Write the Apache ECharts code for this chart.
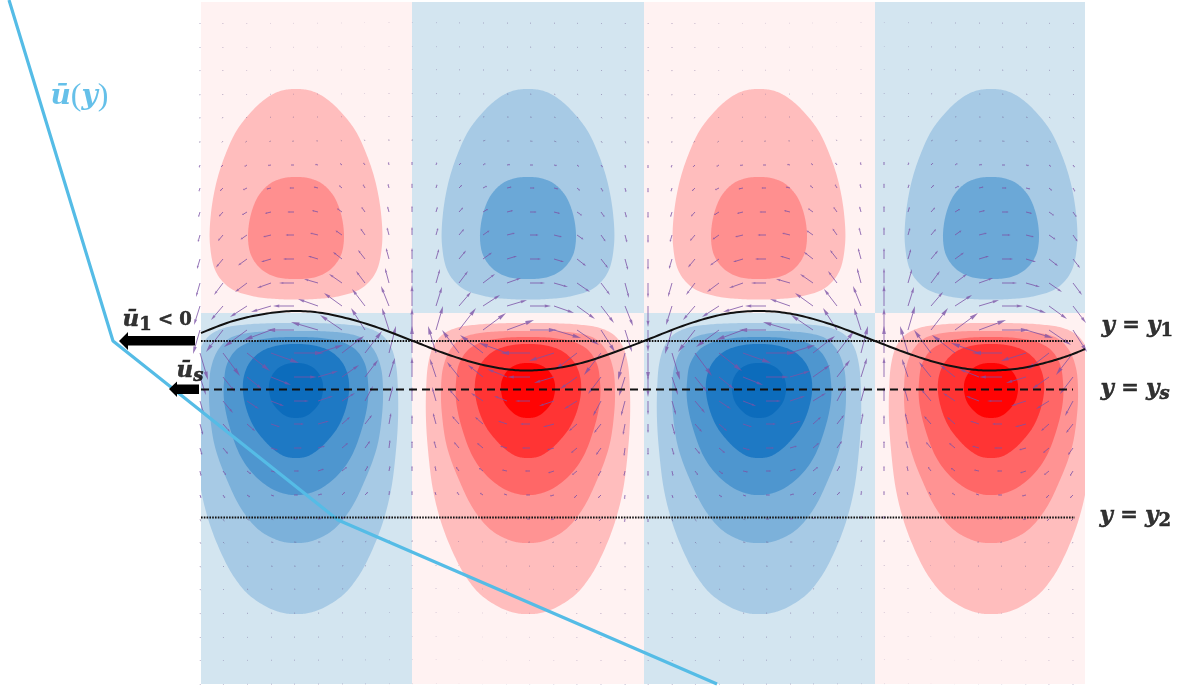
<!DOCTYPE html>
<html><head><meta charset="utf-8">
<style>html,body{margin:0;padding:0;background:#fff}#c{width:1184px;height:687px}</style>
<script src="https://cdn.jsdelivr.net/npm/echarts@6/dist/echarts.min.js"></script>
</head><body><div id="c"></div>
<script>
// Field cells: [x start, x end, y start, y end, sign]
const cells = [
 [201,412,2,313,1],[412,644,2,313,-1],[644,875,2,313,1],[875,1085,2,313,-1],
 [201,412,313,684,-1],[412,644,313,684,1],[644,875,313,684,-1],[875,1085,313,684,1]
];
const cellCentres = [296,528,759,991];
// Contour half-profiles [offset from cell centre, y]
const upperOuter = [[0,89],[14,90.5],[28,97],[44,111],[59,130],[70,153],[79,180],[85,213],[86,245],[80,272],[66,288],[44,296],[20,299],[0,299.5]];
const upperInner = [[0,177],[12,178],[25,183],[37,195],[45,214],[48,237],[45,255],[35,269],[20,277],[0,279]];
const lower1 = [[0,323],[25,323.2],[50,324.5],[72,328],[86,335],[95,347],[100,365],[102,393],[102,420],[100,450],[95,490],[86,525],[73,557],[62,577],[47,595],[25,609],[10,613.5],[0,614]];
const lower2 = [[0,331],[25,331.2],[48,333],[66,338],[78,350],[85,368],[87,390],[86,415],[81,447],[69,480],[54,510],[37,530],[19,540],[8,542.7],[0,543]];
const lower3 = [[0,337],[25,338],[46,342],[60,350],[69,364],[72,382],[72,400],[67,425],[55,457],[40,477],[22,490],[8,494.5],[0,495]];
const lower4 = [[0,344],[18,345.5],[34,351],[46,362],[52,376],[53,392],[49,411],[42,427],[33,439],[23,449],[11,456.5],[0,458]];
const lower5 = [[0,363],[11,364.5],[20,370],[26,380],[27,390],[24,402],[17,411],[9,416.5],[0,418]];
const upperLevels = [upperOuter, upperInner];
const lowerLevels = [lower1, lower2, lower3, lower4, lower5];
const redShades  = {band:'#FFF2F2', upper:['#FFBDBD','#FF8F8F'], lower:['#FFBDBD','#FF9393','#FF6767','#FF3434','#FF0404']};
const blueShades = {band:'#D3E5F0', upper:['#A7CAE5','#6BA8D7'], lower:['#A7CAE5','#7CB1DA','#4E96CF','#1E79C4','#0C6CBC']};

// Quiver rows: y, then east and south components per grid column, read for one half wave
const quiverY = [23,47,70,94,117,141,165,188,212,235,259,283,306,330,353,377,401,424,448,471,495,519,542,566,589,613,637,660,684];
const quiverU = [
 [-.3,-.5,-.6,-.7,-.7,-.7,-.6,-.5,-.3,0],[-.3,-.5,-.6,-.7,-.8,-.7,-.6,-.5,-.3,0],[-.4,-.6,-.7,-.8,-.9,-.8,-.7,-.6,-.3,0],
 [-.5,-.8,-.9,-1,-1,-1,-.9,-.7,-.3,0],[-.5,-1,-1,-1.3,-1.4,-1.3,-1,-.8,-.4,0],[-.6,-1.5,-2,-2,-2.2,-2,-1.5,-1,-.5,0],
 [-.8,-2,-2.5,-3,-3,-2.8,-2,-1.5,-.6,0],[-1,-3,-4,-4.5,-4.5,-4.2,-3,-2,-1,0],[-1.5,-4,-5,-6,-6.5,-6,-5,-3.5,-1.5,0],
 [-2,-5,-6.5,-8,-8.5,-8,-6.5,-4.5,-2,0],[-3,-7,-9,-10,-11,-10,-9,-7,-3,0],[-4,-9,-12,-14,-15,-14,-13,-9,-4,0],
 [-6,-12,-17,-20,-21,-20,-18,-13,-8,0],[-7,-17,-23,-27,-27,-27,-22,-14,-7,0],[8,17,23,28,30,25,22,17,7,0],
 [6,12,15,20,23,20,17,13,6,0],[4,10,12,13,15,15,13,8,4,0],[3,7,8,9,10,11,8,7,2,0],
 [2,5,6,7,8,7,6,5,1,0],[1,3,4,5,5,6,5,3,1,0],[1,2,3,3,4,4,3,3,.5,0],
 [.5,1,2,2,3,3,2,2,.5,0],[.5,1,1,2,2,2,1,1,.3,0],[.3,.7,1,1.3,1.3,1.3,1,.7,.2,0],
 [.3,.6,.8,1,1,1,.8,.6,.2,0],[.2,.5,.7,.8,.8,.8,.7,.5,.2,0],[.2,.4,.5,.6,.7,.6,.5,.4,.2,0],
 [.2,.3,.4,.5,.6,.5,.4,.3,.2,0],[.1,.3,.4,.5,.5,.5,.4,.3,.1,0]
];
const quiverV = [
 [.7,.5,.3,.1,0,-.1,-.3,-.5,-.7,-.7],[.7,.5,.3,.1,0,-.1,-.3,-.5,-.7,-.7],[.8,.6,.3,.1,0,-.1,-.3,-.6,-.8,-.8],
 [1,.7,.4,.1,0,-.2,-.4,-.7,-1,-1],[1.2,1,.6,.2,0,-.3,-.7,-1,-1.2,-1.3],[1.6,1.2,1,.3,0,-.5,-1,-1.6,-2,-2],
 [2.5,2,1.5,.5,0,-.6,-1.5,-2.2,-2.8,-3],[3.5,3,2,1,0,-1,-2.5,-3.5,-4,-4.5],[5,4.5,3,1.5,0,-1.5,-3.5,-5,-5.5,-6],
 [7,6,4.5,2,0,-2,-4.5,-6.5,-7.5,-8],[10,8.5,6.5,3,0,-3,-7,-9,-11,-11],[14,12,9,5,0,-4,-9,-12,-15,-15],
 [19,14,11,6,0,-7,-13,-17,-20,-21],[24,22,17,10,0,-8,-15,-22,-22,-22],[27,23,18,10,0,-8,-17,-22,-27,-27],
 [18,15,12,8,0,-6,-12,-17,-19,-20],[14,12,8,5,0,-5,-8,-15,-15,-14],[11,8,7,3,0,-3,-7,-9,-11,-9],
 [7,6,5,2,0,-2,-5,-7,-8,-7],[5,4,3,1,0,-2,-4,-5,-5,-5],[3,3,2,1,0,-1,-3,-3,-4,-4],
 [2,2,1,.5,0,-.5,-2,-2,-3,-3],[1.5,1,.5,.2,0,-.3,-1,-1,-2,-2],[1,.7,.3,.1,0,-.2,-.7,-.7,-1,-1],
 [.9,.6,.3,.1,0,-.2,-.6,-.7,-.9,-.9],[.8,.6,.3,.1,0,-.1,-.5,-.6,-.8,-.8],[.7,.5,.3,.1,0,-.1,-.4,-.5,-.7,-.7],
 [.6,.4,.2,.1,0,-.1,-.3,-.4,-.6,-.6],[.5,.4,.2,.1,0,-.1,-.3,-.4,-.5,-.5]
];
const quiverX = [200,223,247,271,294,318,342,365,389,412,436,459,483,507,530,554,577,601,625,648,672,695,719,743,766,790,813,837,861,884,908,931,955,979,1002,1026,1049,1073];

// Reference lines and profile
const waveLine = [[201,333],[233,321],[267,313.5],[296,311],[325,313.5],[367,324],[413,341],[445,353.5],[479,364],[509,369.5],[528,370.5],[555,368.4],[585,362],[619,350.5],[644,341],[690,323.4],[725,314],[759,311],[790,313.6],[830,324],[875,341],[908,353.5],[942,364],[972,369.5],[991,370.5],[1020,368.3],[1050,361.5],[1073,354],[1085,349]];
const line1 = [[201,341],[1073,341]];
const lineS = [[201,389.5],[1073,389.5]];
const line2 = [[201,517.5],[1075,517.5]];
const meanFlow = [[9,0],[113,341],[338,520],[717,684]];
// Flow arrows: polygons of tip, barbs and shaft
const flowArrow1 = [[119,341],[128,332],[128,336],[195,336],[195,345.5],[128,345.5],[128,350]];
const flowArrowS = [[169,389],[177,381.5],[177,384.5],[199,384.5],[199,394],[177,394],[177,397]];

const labelPoints = [[50,97],[122,320],[176,371],[1101,326],[1100,389],[1099,516]];
const labelTexts = [
 '{b|ū}{p|(}{b|y}{p|)}',
 '{k|ū}{ks|1}{kc| < 0}',
 '{k|ū}{ksi|s}',
 '{k|y}{kb| = }{k|y}{ks|1}',
 '{k|y}{kb| = }{k|y}{ksi|s}',
 '{k|y}{kb| = }{k|y}{ks|2}'
];

const serif = '"DejaVu Serif"';
const quiverData = [];
quiverY.forEach((y, r) => quiverX.forEach((x, i) => {
  const half = Math.floor(i / 10), col = i - half * 10, flip = half % 2 ? -1 : 1;
  quiverData.push([x, y, flip * quiverU[r][col], flip * quiverV[r][col]]);
}));
const contourData = [];
cellCentres.forEach((cx, n) => {
  const up = n % 2 ? blueShades : redShades, low = n % 2 ? redShades : blueShades;
  upperLevels.forEach((p, l) => contourData.push({value:[cx, p[0][1]], prof:p, color:up.upper[l]}));
  lowerLevels.forEach((p, l) => contourData.push({value:[cx, p[0][1]], prof:p, color:low.lower[l]}));
});
function mirrored(prof, cx){
  const right = prof.map(q => [cx + q[0], q[1]]);
  const left = prof.slice(1, -1).reverse().map(q => [cx - q[0], q[1]]);
  return right.concat(left);
}
// Centripetal Catmull-Rom drawing of a curve through the read knots
function spline(pts, closed){
  const n = pts.length, out = [];
  const at = i => closed ? pts[(i+n)%n] : pts[Math.max(0,Math.min(n-1,i))];
  const segs = closed ? n : n-1;
  for(let i=0;i<segs;i++){
    const p0=at(i-1),p1=at(i),p2=at(i+1),p3=at(i+2);
    const d=(a,b)=>Math.max(Math.sqrt(Math.hypot(a[0]-b[0],a[1]-b[1])),1e-3);
    const t0=0,t1=t0+d(p0,p1),t2=t1+d(p1,p2),t3=t2+d(p2,p3);
    const mix=(a,b,ta,tb,t)=>[a[0]+(b[0]-a[0])*(t-ta)/(tb-ta),a[1]+(b[1]-a[1])*(t-ta)/(tb-ta)];
    for(let k=0;k<12;k++){
      const t=t1+(t2-t1)*k/12;
      const a1=mix(p0,p1,t0,t1,t),a2=mix(p1,p2,t1,t2,t),a3=mix(p2,p3,t2,t3,t);
      const b1=mix(a1,a2,t0,t2,t),b2=mix(a2,a3,t1,t3,t);
      out.push(mix(b1,b2,t1,t2,t));
    }
  }
  if(!closed) out.push(pts[n-1]);
  return out;
}
const lineSeries = (data, w, dash) => ({
  type:'line', xAxisIndex:0, yAxisIndex:0, data, symbol:'none', silent:true, z:8,
  lineStyle:{color:'#111', width:w, type:dash}
});
const polygonSeries = pts => ({
  type:'custom', xAxisIndex:0, yAxisIndex:0, data:[[pts[0][0],pts[0][1]]], silent:true, z:9,
  renderItem:(p, api) => ({type:'polygon', shape:{points:pts.map(q => api.coord(q))}, style:{fill:'#000'}})
});
const ink = {color:'#000',textBorderColor:'#000',textBorderWidth:.5};

const chart = echarts.init(document.getElementById('c'), null, {renderer:'canvas'});
chart.setOption({
  animation:false, backgroundColor:'#fff',
  grid:[{left:0,top:0,width:1184,height:687},{left:201,top:2,width:884,height:682}],
  xAxis:[{type:'value',min:0,max:1184,show:false,gridIndex:0},{type:'value',min:201,max:1085,show:false,gridIndex:1}],
  yAxis:[{type:'value',min:0,max:687,inverse:true,show:false,gridIndex:0},{type:'value',min:2,max:684,inverse:true,show:false,gridIndex:1}],
  series:[
    {type:'custom',xAxisIndex:1,yAxisIndex:1,data:cells,silent:true,z:1,
     renderItem:(p,api)=>{
       const c=cells[p.dataIndex],a=api.coord([c[0],c[2]]),b=api.coord([c[1],c[3]]);
       return {type:'rect',shape:{x:a[0],y:a[1],width:b[0]-a[0],height:b[1]-a[1]},style:{fill:c[4]>0?redShades.band:blueShades.band}};
     }},
    {type:'custom',xAxisIndex:1,yAxisIndex:1,data:contourData,clip:true,silent:true,z:2,
     renderItem:(p,api)=>{
       const d=contourData[p.dataIndex];
       return {type:'polygon',shape:{points:spline(mirrored(d.prof,d.value[0]),true).map(q=>api.coord(q))},style:{fill:d.color}};
     }},
    {type:'custom',xAxisIndex:0,yAxisIndex:0,data:quiverData,silent:true,z:4,clip:false,
     renderItem:(p,api)=>{
       const d=quiverData[p.dataIndex],a=api.coord([d[0],d[1]]),b=api.coord([d[0]+d[2],d[1]+d[3]]);
       const dx=b[0]-a[0],dy=b[1]-a[1],len=Math.hypot(dx,dy);
       if(len<2.5){
         return {type:'line',shape:{x1:a[0],y1:a[1],x2:a[0]+dx+.3,y2:a[1]+dy+.3},style:{stroke:'#6E5A90',lineWidth:1,opacity:.5}};
       }
       const ux=dx/len,uy=dy/len,hl=len*.3,hw=Math.max(len*.07,1),bx=b[0]-ux*hl,by=b[1]-uy*hl;
       return {type:'group',children:[
         {type:'line',shape:{x1:a[0],y1:a[1],x2:bx,y2:by},style:{stroke:'#7C52A6',lineWidth:1,opacity:.8}},
         {type:'polygon',shape:{points:[[b[0],b[1]],[bx-uy*hw,by+ux*hw],[bx+uy*hw,by-ux*hw]]},style:{fill:'#7C52A6',opacity:.8}}
       ]};
     }},
    lineSeries(line1,2.2,[1.6,1.2]),
    lineSeries(lineS,1.8,[8,5]),
    lineSeries(line2,2.2,[1.6,1.2]),
    {type:'custom',xAxisIndex:0,yAxisIndex:0,data:waveLine,silent:true,z:7,
     renderItem:(p,api)=>p.dataIndex?null:({type:'polyline',shape:{points:spline(waveLine,false).map(q=>api.coord(q))},style:{stroke:'#111',lineWidth:2,fill:null}})},
    {type:'line',xAxisIndex:0,yAxisIndex:0,data:meanFlow,symbol:'none',silent:true,z:6,lineStyle:{color:'#55BCE6',width:3.2}},
    polygonSeries(flowArrow1),
    polygonSeries(flowArrowS),
    {type:'scatter',xAxisIndex:0,yAxisIndex:0,data:labelPoints,symbolSize:1,silent:true,z:10,
     itemStyle:{color:'rgba(0,0,0,0)'},
     label:{show:true,position:'right',distance:0,
       formatter:p=>labelTexts[p.dataIndex],
       rich:{
        b:{fontFamily:serif,fontSize:28,fontWeight:'bold',fontStyle:'italic',color:'#3FB0E3'},
        p:{fontFamily:'"Liberation Serif"',fontSize:32,color:'#3FB0E3'},
        k:{fontFamily:serif,fontSize:23,fontWeight:'bold',fontStyle:'italic',...ink},
        kb:{fontFamily:serif,fontSize:21,fontWeight:'bold',...ink},
        kc:{fontFamily:serif,fontSize:18,fontWeight:'bold',...ink},
        ks:{fontFamily:serif,fontSize:18,fontWeight:'bold',verticalAlign:'bottom',padding:[10,0,0,0],...ink},
        ksi:{fontFamily:serif,fontSize:18,fontWeight:'bold',fontStyle:'italic',verticalAlign:'bottom',padding:[10,0,0,0],...ink}
       }}}
  ]
});
</script></body></html>
